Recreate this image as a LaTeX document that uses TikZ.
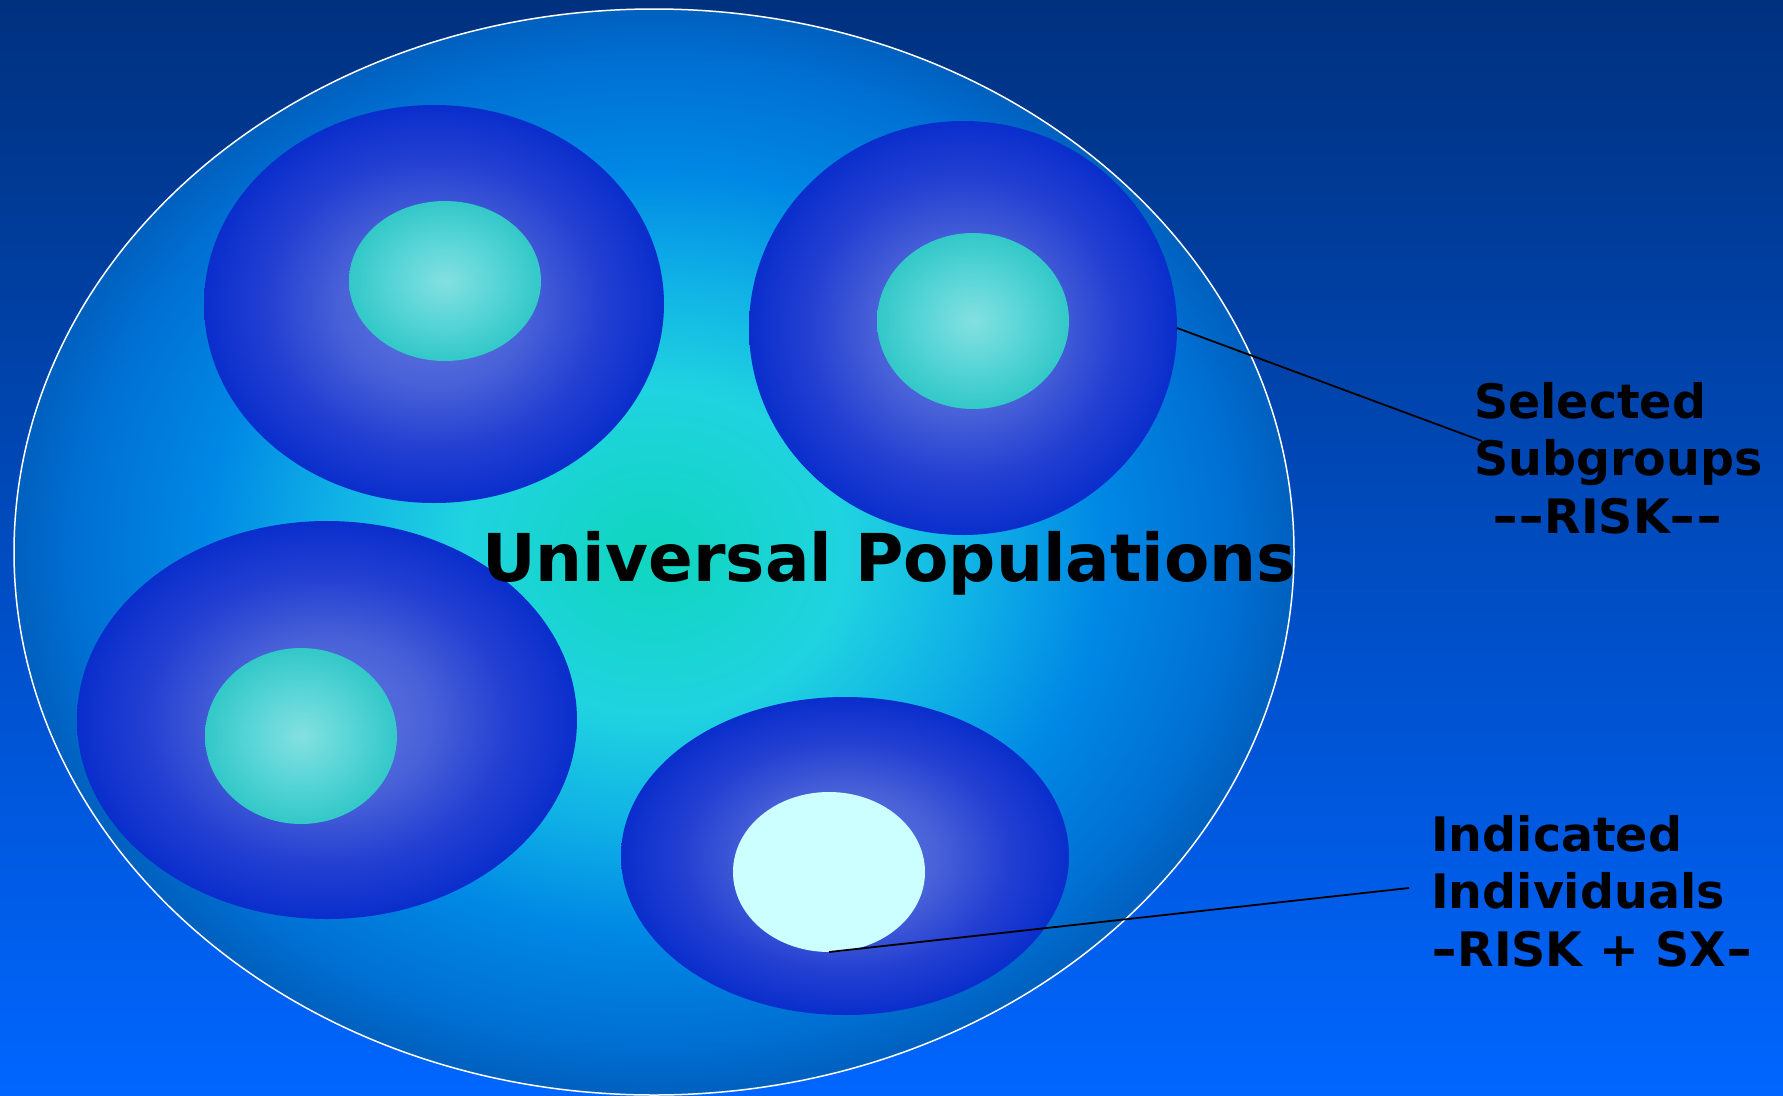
\documentclass[tikz,border=0pt]{standalone}
\usepackage{fontspec}
\setmainfont{DejaVu Sans}
\usetikzlibrary{shapes.geometric}
\definecolor{bgtop}{HTML}{00317F}
\definecolor{bgmid}{HTML}{004BC8}
\definecolor{bgbot}{HTML}{0066FF}
\definecolor{bigA}{HTML}{0FD6BE}
\definecolor{bigB}{HTML}{20D3E0}
\definecolor{bigC}{HTML}{10B2E6}
\definecolor{bigD}{HTML}{0088E5}
\definecolor{bigE}{HTML}{0070D4}
\definecolor{bigF}{HTML}{0060BE}
\definecolor{blobA}{HTML}{5F78E0}
\definecolor{blobB}{HTML}{4A62D8}
\definecolor{blobC}{HTML}{2440D2}
\definecolor{blobD}{HTML}{0A2ECC}
\definecolor{tealA}{HTML}{84E0E0}
\definecolor{tealB}{HTML}{5CD6D8}
\definecolor{tealC}{HTML}{33C8C8}
\definecolor{pale}{HTML}{CCFFFF}
\newcommand{\wdash}{\scalebox{1.33}[1]{-}}
\pgfdeclareradialshading{bigsh}{\pgfpoint{0bp}{0bp}}{color(0bp)=(bigA); color(7.5bp)=(bigB); color(12.5bp)=(bigC); color(17.5bp)=(bigD); color(22.5bp)=(bigE); color(25bp)=(bigF); color(50bp)=(bigF)}
\pgfdeclareradialshading{blobsh}{\pgfpoint{0bp}{0bp}}{color(0bp)=(blobA); color(10bp)=(blobB); color(18bp)=(blobC); color(25bp)=(blobD); color(50bp)=(blobD)}
\pgfdeclareradialshading{tealsh}{\pgfpoint{0bp}{0bp}}{color(0bp)=(tealA); color(12bp)=(tealB); color(25bp)=(tealC); color(50bp)=(tealC)}
\tikzset{
  ell/.style={ellipse, inner sep=0pt, outer sep=0pt, draw=none},
  bigell/.style={ell, shading=bigsh, draw=white, line width=1.5pt},
  blob/.style={ell, shading=blobsh},
  core/.style={ell, shading=tealsh},
  palecore/.style={ell, fill=pale},
  conn/.style={draw=black, line width=1.8pt},
  title/.style={anchor=base west, inner sep=0pt, font=\bfseries\fontsize{66}{66}\selectfont},
  lbl/.style={anchor=base west, inner sep=0pt, font=\bfseries\fontsize{47.5}{58}\selectfont}
}
\begin{document}
\begin{tikzpicture}[x=1pt,y=-1pt]
\useasboundingbox (0,0) rectangle (1783,1095);
\clip (0,0) rectangle (1783,1095);
\fill[top color=bgtop, middle color=bgmid, bottom color=bgbot] (0,0) rectangle (1783,1095);
\node[bigell, minimum width=1280pt, minimum height=1086pt] (uni) at (654,552) {};
\node[blob, minimum width=460pt, minimum height=398pt] (b1) at (434,304) {};
\node[blob, minimum width=428pt, minimum height=414pt] (b2) at (963,328) {};
\node[blob, minimum width=500pt, minimum height=398pt] (b3) at (327,720) {};
\node[blob, minimum width=448pt, minimum height=318pt] (b4) at (845,856) {};
\node[core, minimum width=192pt, minimum height=160pt] (i1) at (445,281) {};
\node[core, minimum width=192pt, minimum height=176pt] (i2) at (973,321) {};
\node[core, minimum width=192pt, minimum height=176pt] (i3) at (301,736) {};
\node[palecore, minimum width=192pt, minimum height=160pt] (i4) at (829,872) {};
\node[title] (ttl) at (482,581) {Universal Populations};
\node[lbl] (s1) at (1474,418) {Selected};
\node[lbl] (s2) at (1474,475) {Subgroups};
\node[lbl] (s3) at (1492,533) {\wdash\wdash RISK\wdash\wdash};
\node[lbl] (n1) at (1431,851) {Indicated};
\node[lbl] (n2) at (1431,908) {Individuals};
\node[lbl] (n3) at (1431,966) {\wdash RISK + SX\wdash};
\coordinate (c1) at (1482,441);
\coordinate (c2) at (1409,888);
\draw[conn] (b2.east) -- (c1);
\draw[conn] (i4.south) -- (c2);
\end{tikzpicture}
\end{document}
